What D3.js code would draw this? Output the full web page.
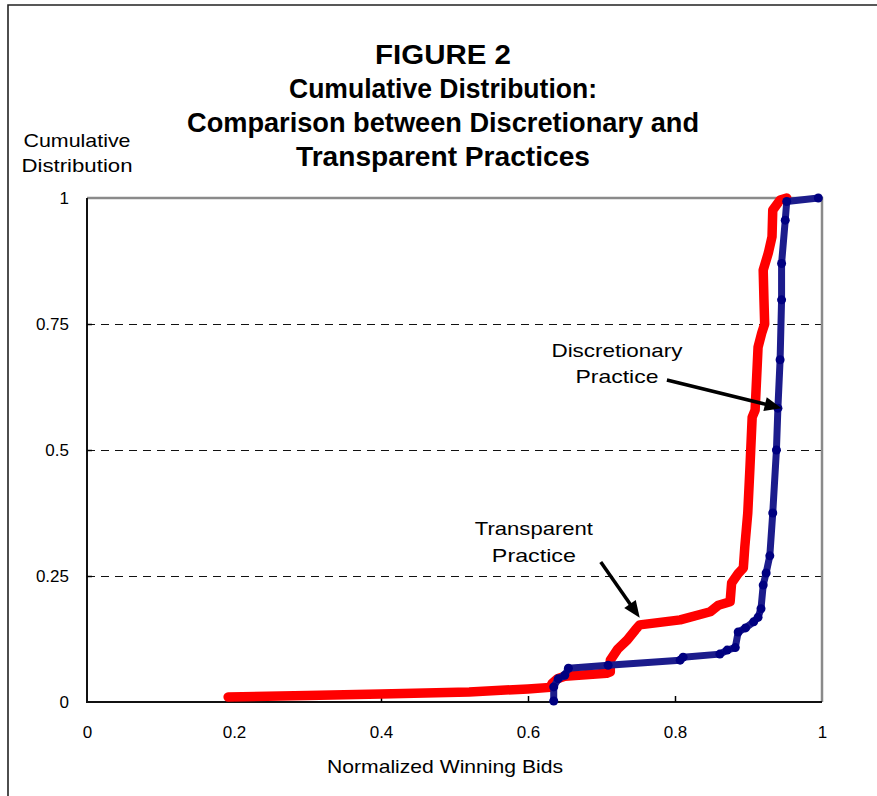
<!doctype html>
<html lang="en">
<head>
  <meta charset="utf-8">
  <title>Figure 2 - Cumulative Distribution</title>
  <style>
body {
  margin: 0;
  background: #fff;
}
text {
  font-family: "Liberation Sans", Arial, sans-serif;
  fill: #000;
}
.title {
  font-size: 27px;
  font-weight: bold;
}
.axis text {
  font-size: 17px;
}
.axis line {
  stroke: #000;
  stroke-width: 1.5;
}
.axis path {
  display: none;
}
.grid line {
  stroke: #111;
  stroke-width: 1.2;
  stroke-dasharray: 8,6;
  shape-rendering: crispEdges;
}
  </style>
</head>
<body>
  <script src="https://d3js.org/d3.v7.min.js"></script>
  <script>
// values
var xTicks = [0, 0.2, 0.4, 0.6, 0.8, 1];
var xTickLabels = ["0", "0.2", "0.4", "0.6", "0.8", "1"];
var yTicks = [0, 0.25, 0.5, 0.75, 1];
var yTickLabels = ["0", "0.25", "0.5", "0.75", "1"];
var gridValues = [0.25, 0.5, 0.75];

// Transparent practice (red)
var transparentX = [0.192, 0.30, 0.40, 0.52, 0.60, 0.630, 0.633, 0.640, 0.650, 0.707, 0.712, 0.712,
  0.722, 0.735, 0.746, 0.752, 0.807, 0.848, 0.859, 0.875, 0.877, 0.886, 0.893, 0.895, 0.899,
  0.902, 0.905, 0.909, 0.913, 0.918, 0.922, 0.921, 0.920, 0.927, 0.932, 0.933, 0.943, 0.952];
var transparentY = [0.010, 0.013, 0.016, 0.020, 0.026, 0.029, 0.037, 0.046, 0.051, 0.057, 0.060, 0.083,
  0.105, 0.123, 0.143, 0.153, 0.163, 0.179, 0.192, 0.199, 0.236, 0.255, 0.266, 0.308, 0.375,
  0.466, 0.565, 0.579, 0.704, 0.732, 0.750, 0.800, 0.857, 0.891, 0.923, 0.976, 0.996, 1.0];

// Discretionary practice (navy)
var discretionaryX = [0.635, 0.635, 0.641, 0.650, 0.655, 0.709, 0.807, 0.811, 0.861, 0.871, 0.882,
  0.886, 0.896, 0.907, 0.913, 0.917, 0.920, 0.924, 0.929, 0.933, 0.938, 0.940, 0.943, 0.945,
  0.945, 0.950, 0.952, 0.995];
var discretionaryY = [0.002, 0.030, 0.046, 0.053, 0.067, 0.073, 0.083, 0.089, 0.095, 0.103, 0.108,
  0.139, 0.147, 0.159, 0.168, 0.185, 0.232, 0.256, 0.290, 0.375, 0.500, 0.583, 0.679, 0.798,
  0.870, 0.956, 0.993, 1.0];

var W = 877, H = 796;
var margin = {top: 198, right: 55, bottom: 94, left: 87},
    width = W - margin.left - margin.right,
    height = H - margin.top - margin.bottom;

var svg = d3.select("body").append("svg")
    .attr("width", W)
    .attr("height", H);

// outer frame of the figure
svg.append("path")
    .attr("d", "M8,796 V5 H877")
    .attr("fill", "none")
    .attr("stroke", "#222")
    .attr("stroke-width", 1.6);

// title
var titleLines = [
  {t: "FIGURE 2", len: 136},
  {t: "Cumulative Distribution:", len: 308},
  {t: "Comparison between Discretionary and", len: 512},
  {t: "Transparent Practices", len: 294}
];
svg.selectAll(".title")
    .data(titleLines)
    .enter().append("text")
    .attr("class", "title")
    .attr("x", 443)
    .attr("y", function(d, i) { return 64 + i * 34; })
    .attr("text-anchor", "middle")
    .attr("textLength", function(d) { return d.len; })
    .attr("lengthAdjust", "spacingAndGlyphs")
    .text(function(d) { return d.t; });

// y axis title
svg.append("text").attr("x", 77).attr("y", 147).attr("text-anchor", "middle")
    .style("font-size", "19px").attr("textLength", 107).attr("lengthAdjust", "spacingAndGlyphs")
    .text("Cumulative");
svg.append("text").attr("x", 77).attr("y", 172).attr("text-anchor", "middle")
    .style("font-size", "19px").attr("textLength", 111).attr("lengthAdjust", "spacingAndGlyphs")
    .text("Distribution");

var g = svg.append("g")
    .attr("transform", "translate(" + margin.left + "," + margin.top + ")");

var x = d3.scaleLinear().domain([0, 1]).range([0, width]);
var y = d3.scaleLinear().domain([0, 1]).range([height, 0]);

// dashed grid
g.append("g").attr("class", "grid")
  .selectAll("line")
    .data(gridValues)
    .enter().append("line")
    .attr("x1", 0)
    .attr("x2", width)
    .attr("y1", function(d) { return Math.round(y(d)) + 0.5; })
    .attr("y2", function(d) { return Math.round(y(d)) + 0.5; });

// plot frame: gray top & right, black left & bottom
g.append("path")
    .attr("d", "M0,0 H" + width + " V" + height)
    .attr("fill", "none")
    .attr("stroke", "#8a8a8a")
    .attr("stroke-width", 2.5);
g.append("path")
    .attr("d", "M0,0 V" + height + " H" + width)
    .attr("fill", "none")
    .attr("stroke", "#111")
    .attr("stroke-width", 2);

g.append("g")
    .attr("class", "x axis")
    .attr("transform", "translate(0," + height + ")")
    .call(d3.axisBottom(x)
        .tickValues(xTicks)
        .tickFormat(function(d, i) { return xTickLabels[i]; })
        .tickSizeInner(-6).tickSizeOuter(0).tickPadding(24));

g.append("g")
    .attr("class", "y axis")
    .call(d3.axisLeft(y)
        .tickValues(yTicks)
        .tickFormat(function(d, i) { return yTickLabels[i]; })
        .tickSizeInner(-5).tickSizeOuter(0).tickPadding(18));

// hide ticks sitting on the frame corners
g.selectAll(".x.axis .tick line").filter(function(d) { return d === 0 || d === 1; }).remove();
g.selectAll(".y.axis .tick line").filter(function(d) { return d === 0 || d === 1; }).remove();

// x axis title
svg.append("text").attr("x", 445).attr("y", 773).attr("text-anchor", "middle")
    .style("font-size", "19px").attr("textLength", 236).attr("lengthAdjust", "spacingAndGlyphs")
    .text("Normalized Winning Bids");

var line = d3.line()
    .x(function(d) { return x(d[0]); })
    .y(function(d) { return y(d[1]); });

var transparent = d3.zip(transparentX, transparentY);
var discretionary = d3.zip(discretionaryX, discretionaryY);

// red curve
g.append("path")
    .datum(transparent)
    .attr("d", line)
    .attr("fill", "none")
    .attr("stroke", "#ff0000")
    .attr("stroke-width", 9.5)
    .attr("stroke-linejoin", "round")
    .attr("stroke-linecap", "round");

// navy curve with markers
g.append("path")
    .datum(discretionary)
    .attr("d", line)
    .attr("fill", "none")
    .attr("stroke", "#1c1c8c")
    .attr("stroke-width", 7)
    .attr("stroke-linejoin", "round");

g.selectAll(".dot")
    .data(discretionary)
    .enter().append("circle")
    .attr("class", "dot")
    .attr("cx", function(d) { return x(d[0]); })
    .attr("cy", function(d) { return y(d[1]); })
    .attr("r", 4.5)
    .attr("fill", "#000080");

// annotations
function arrow(x1, y1, x2, y2) {
  var a = Math.atan2(y(y2) - y(y1), x(x2) - x(x1));
  var L = 17, hw = 7;
  var tx = x(x2), ty = y(y2);
  var bx = tx - L * Math.cos(a), by = ty - L * Math.sin(a);
  g.append("line")
      .attr("x1", x(x1)).attr("y1", y(y1))
      .attr("x2", bx + 2 * Math.cos(a)).attr("y2", by + 2 * Math.sin(a))
      .attr("stroke", "#000").attr("stroke-width", 3.5);
  g.append("polygon")
      .attr("points", [
        [tx, ty],
        [bx + hw * Math.sin(a), by - hw * Math.cos(a)],
        [bx - hw * Math.sin(a), by + hw * Math.cos(a)]
      ].map(function(p) { return p.join(","); }).join(" "))
      .attr("fill", "#000");
}

function label(cx, cy, txt, len) {
  g.append("text")
      .attr("x", x(cx)).attr("y", y(cy))
      .attr("text-anchor", "middle")
      .style("font-size", "19px")
      .attr("textLength", len)
      .attr("lengthAdjust", "spacingAndGlyphs")
      .text(txt);
}

label(0.721, 0.685, "Discretionary", 131);
label(0.721, 0.633, "Practice", 83);
arrow(0.789, 0.639, 0.945, 0.583);

label(0.608, 0.332, "Transparent", 118);
label(0.608, 0.278, "Practice", 84);
arrow(0.699, 0.278, 0.752, 0.167);
  </script>
</body>
</html>
